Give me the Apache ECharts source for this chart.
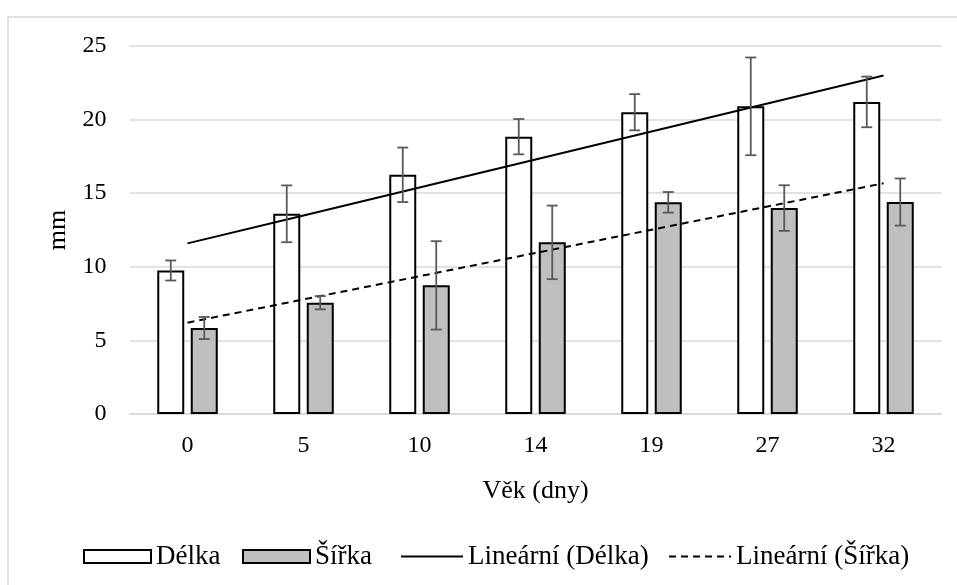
<!DOCTYPE html>
<html>
<head>
<meta charset="utf-8">
<script src="https://cdn.jsdelivr.net/npm/echarts@6/dist/echarts.min.js"></script>
<style>
html,body{margin:0;padding:0;background:#fff;}
#chart{width:957px;height:585px;}
</style>
</head>
<body>
<div id="chart"></div>
<script>
const categories = ['0', '5', '10', '14', '19', '27', '32'];
const delka = [9.75, 13.6, 16.25, 18.84, 20.5, 20.9, 21.2];
const delkaErr = [0.68, 1.93, 1.85, 1.2, 1.23, 3.32, 1.72];
const sirka = [5.84, 7.56, 8.74, 11.66, 14.38, 13.99, 14.4];
const sirkaErr = [0.75, 0.45, 3.0, 2.5, 0.7, 1.55, 1.6];
const yMin = 0, yMax = 25, yStep = 5;
const xTitle = 'Věk (dny)';
const yTitle = 'mm';
const names = ['Délka', 'Šířka', 'Lineární (Délka)', 'Lineární (Šířka)'];

function linTrend(vals) {
  const n = vals.length;
  let sx = 0, sy = 0, sxy = 0, sxx = 0;
  vals.forEach((v, i) => { const x = i + 1; sx += x; sy += v; sxy += x * v; sxx += x * x; });
  const b = (n * sxy - sx * sy) / (n * sxx - sx * sx);
  const a = (sy - b * sx) / n;
  return vals.map((v, i) => a + b * (i + 1));
}

const FONT = "'Liberation Serif', 'Times New Roman', serif";
const BAR_W = 27;
const GAP = 6.5;
const OFF = (BAR_W + GAP) / 2;

function errData(vals, errs) {
  return vals.map((v, i) => [i, v - errs[i], v + errs[i]]);
}
function errRender(offset) {
  return function (params, api) {
    const i = api.value(0);
    const lo = api.coord([i, api.value(1)]);
    const hi = api.coord([i, api.value(2)]);
    const x = lo[0] + offset;
    const cap = 5.5;
    const style = { stroke: '#595959', lineWidth: 1.8, fill: null };
    return {
      type: 'group',
      children: [
        { type: 'line', shape: { x1: x, y1: lo[1], x2: x, y2: hi[1] }, style: style },
        { type: 'line', shape: { x1: x - cap, y1: lo[1], x2: x + cap, y2: lo[1] }, style: style },
        { type: 'line', shape: { x1: x - cap, y1: hi[1], x2: x + cap, y2: hi[1] }, style: style }
      ]
    };
  };
}

const chart = echarts.init(document.getElementById('chart'), null, { renderer: 'canvas' });
const legendBase = {
  top: 538, itemHeight: 13, textStyle: { fontFamily: FONT, fontSize: 27, color: '#000' }, itemGap: 0
};
chart.setOption({
  animation: false,
  backgroundColor: '#fff',
  textStyle: { fontFamily: FONT },
  graphic: [{
    type: 'rect', shape: { x: 8, y: 17, width: 1100, height: 800 },
    style: { fill: null, stroke: '#d9d9d9', lineWidth: 1.5 }, silent: true, z: -10
  }],
  grid: { left: 129.5, right: 15.5, top: 46, bottom: 171, containLabel: false },
  legend: [
    Object.assign({}, legendBase, { left: 78, itemWidth: 67, data: [{ name: names[0], icon: 'rect' }] }),
    Object.assign({}, legendBase, { left: 237, itemWidth: 67, data: [{ name: names[1], icon: 'rect' }] }),
    Object.assign({}, legendBase, { left: 395, itemWidth: 62, data: [{ name: names[2], itemStyle: { opacity: 0 } }] }),
    Object.assign({}, legendBase, { left: 663, itemWidth: 62, data: [{ name: names[3], itemStyle: { opacity: 0 } }] })
  ],
  xAxis: {
    type: 'category',
    data: categories,
    name: xTitle,
    nameLocation: 'middle',
    nameGap: 64,
    nameTextStyle: { fontFamily: FONT, fontSize: 26, color: '#000' },
    axisLine: { lineStyle: { color: '#d9d9d9', width: 1.5 } },
    axisTick: { show: false },
    axisLabel: { fontFamily: FONT, fontSize: 24, color: '#000', margin: 20 }
  },
  yAxis: {
    type: 'value',
    min: yMin, max: yMax, interval: yStep,
    name: yTitle,
    nameLocation: 'middle',
    nameRotate: 90,
    nameGap: 56,
    nameTextStyle: { fontFamily: FONT, fontSize: 26, color: '#000' },
    axisLine: { show: false },
    axisTick: { show: false },
    axisLabel: { fontFamily: FONT, fontSize: 24, color: '#000', margin: 23 },
    splitLine: { lineStyle: { color: '#d9d9d9', width: 1.5 } }
  },
  series: [
    {
      name: names[0], type: 'bar', data: delka, barWidth: BAR_W, barGap: (GAP / BAR_W * 100) + '%',
      itemStyle: { color: '#ffffff', borderColor: '#000', borderWidth: 2 }, z: 2
    },
    {
      name: names[1], type: 'bar', data: sirka, barWidth: BAR_W,
      itemStyle: { color: '#bfbfbf', borderColor: '#000', borderWidth: 2 }, z: 2
    },
    {
      name: names[2], type: 'line', data: linTrend(delka), symbol: 'none', showSymbol: false,
      lineStyle: { color: '#000', width: 2, type: 'solid' }, itemStyle: { color: '#000' }, z: 4
    },
    {
      name: names[3], type: 'line', data: linTrend(sirka), symbol: 'none', showSymbol: false,
      lineStyle: { color: '#000', width: 2, type: [7, 5] }, itemStyle: { color: '#000' }, z: 4
    },
    {
      type: 'custom', name: 'errD', data: errData(delka, delkaErr), renderItem: errRender(-OFF),
      encode: { x: 0, y: [1, 2] }, z: 5, silent: true
    },
    {
      type: 'custom', name: 'errS', data: errData(sirka, sirkaErr), renderItem: errRender(OFF),
      encode: { x: 0, y: [1, 2] }, z: 5, silent: true
    }
  ]
});
</script>
</body>
</html>
